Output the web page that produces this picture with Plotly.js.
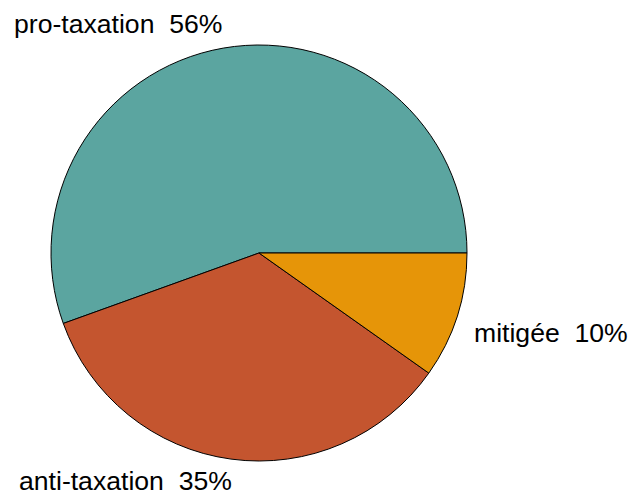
<!DOCTYPE html>
<html>
<head>
<meta charset="utf-8">
<script src="https://cdn.plot.ly/plotly-3.0.1.min.js"></script>
<style>html,body{margin:0;padding:0;background:#fff;}#chart{width:631px;height:496px;}</style>
</head>
<body>
<div id="chart"></div>
<script>
var categories = ["pro-taxation", "anti-taxation", "mitigée"];
var values = [55.5, 34.7, 9.8];
var percentLabels = ["56%", "35%", "10%"];
var colors = ["#5BA5A0", "#C4552F", "#E69508"];

var labelX = [12, 17, 472];
var labelY = [24, 481, 333];

var W = 631, H = 496;
var total = values.reduce(function (a, b) { return a + b; }, 0);
// first slice should start at 3 o'clock and run counterclockwise
var rotation = 90 - 360 * values[0] / total;

var annotations = categories.map(function (c, i) {
  return {
    text: c + "\u00a0\u00a0" + percentLabels[i],
    xref: "paper", yref: "paper",
    x: labelX[i] / W, y: 1 - labelY[i] / H,
    xanchor: "left", yanchor: "middle",
    showarrow: false,
    font: {family: "Liberation Sans, Arial, sans-serif", size: 26.6, color: "#000"}
  };
});

var trace = {
  type: "pie",
  labels: categories,
  values: values,
  sort: false,
  direction: "counterclockwise",
  rotation: rotation,
  textinfo: "none",
  hoverinfo: "label+percent",
  marker: {colors: colors, line: {color: "#000", width: 1}},
  domain: {x: [51 / W, 467 / W], y: [35 / H, 451 / H]}
};

var layout = {
  width: W, height: H,
  margin: {l: 0, r: 0, t: 0, b: 0},
  showlegend: false,
  paper_bgcolor: "#fff",
  annotations: annotations
};

Plotly.newPlot("chart", [trace], layout, {displayModeBar: false, staticPlot: true});
</script>
</body>
</html>
